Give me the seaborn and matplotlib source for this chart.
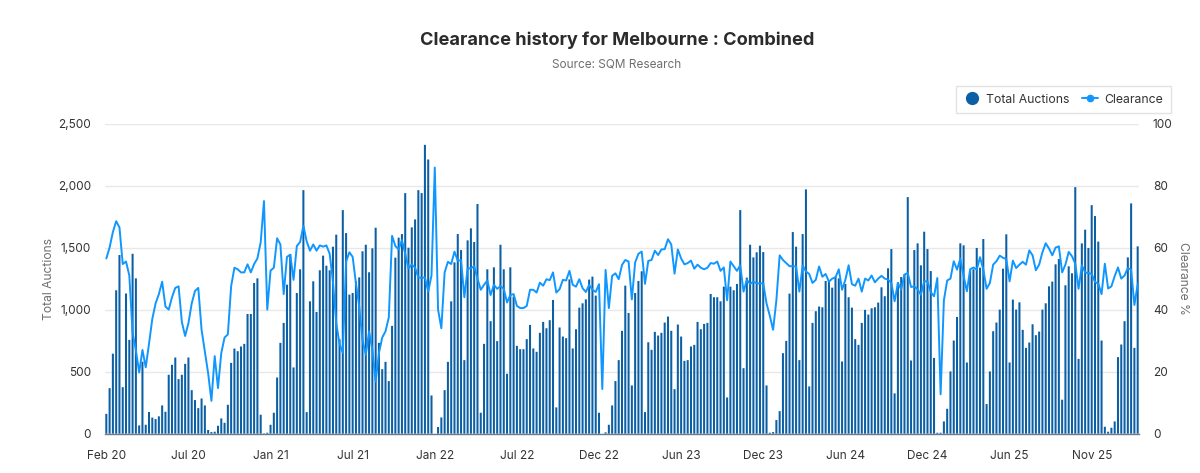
import matplotlib
matplotlib.use('Agg')
import matplotlib.pyplot as plt
from matplotlib.lines import Line2D
import numpy as np
import seaborn as sns

auctions = [160, 367, 645, 1156, 1440, 375, 1130, 756, 1450, 1252, 67, 580, 72, 175, 130, 118, 140, 228, 177, 475,
            555, 614, 440, 475, 563, 614, 351, 271, 206, 284, 228, 30, 13, 16, 64, 123, 88, 233, 571, 686,
            665, 703, 724, 965, 965, 1215, 1252, 153, 3, 8, 72, 169, 453, 732, 893, 1201, 1448, 534, 1134, 1325,
            1963, 174, 1067, 1228, 981, 1317, 1435, 1354, 1317, 1507, 1604, 762, 1802, 1617, 1121, 1134, 1228, 1260, 1470, 1523,
            1301, 1494, 1660, 732, 520, 579, 424, 869, 1419, 1580, 1609, 1939, 1499, 1663, 1727, 1963, 1939, 2328, 2210, 308,
            0, 54, 131, 351, 579, 1067, 1381, 1609, 1480, 593, 1558, 1655, 1545, 1851, 169, 724, 1325, 907, 1341, 746,
            1523, 1325, 483, 1341, 1105, 708, 681, 681, 762, 877, 687, 660, 813, 901, 850, 915, 1078, 212, 856, 783,
            770, 1244, 687, 842, 1016, 1051, 1083, 1242, 1266, 1113, 169, 0, 11, 72, 228, 424, 593, 829, 1193, 973,
            389, 1134, 1231, 1309, 174, 737, 676, 821, 791, 813, 896, 944, 829, 359, 880, 783, 587, 593, 703, 716,
            901, 842, 885, 893, 1126, 1100, 1100, 1067, 1185, 292, 1185, 1156, 1207, 1802, 528, 1258, 1523, 1421, 1462, 1515,
            1464, 389, 8, 13, 110, 182, 649, 748, 1129, 1625, 1507, 593, 1609, 1969, 381, 893, 987, 1025, 1019, 1231,
            1239, 1177, 1266, 1252, 582, 1207, 1100, 1016, 762, 716, 893, 998, 960, 1011, 1019, 1057, 1180, 1108, 1333, 1488,
            325, 1220, 1263, 1285, 1907, 590, 1480, 1534, 1357, 1628, 1488, 1311, 611, 8, 8, 99, 201, 502, 751, 941,
            1534, 1518, 574, 1322, 1325, 1497, 1338, 1569, 239, 502, 826, 896, 1000, 1330, 1607, 574, 1081, 1000, 1059, 837,
            692, 735, 882, 794, 823, 1000, 1051, 1188, 1226, 1365, 1408, 274, 1196, 1349, 1293, 1987, 603, 1534, 1644, 1497,
            1842, 1754, 1548, 751, 56, 16, 48, 99, 617, 719, 907, 1421, 1856, 692, 1510]

clearance = [56.5, 60, 65, 68.5, 66.5, 54.7, 55.5, 51, 32.4, 27, 19.7, 27, 21.4, 29, 37, 42, 45, 49, 41, 40,
             44, 47, 47.5, 36, 31.5, 35.6, 42, 46, 47, 33.5, 26.5, 19.5, 10.6, 25, 14.7, 26, 31, 32, 47.5, 53.5,
             53, 52, 52, 54.6, 52, 54.7, 56.5, 61.7, 75, 40, 52.6, 53.5, 63, 61, 45, 57, 57.7, 49.6, 60.5, 61.8,
             67, 62, 59, 61, 59, 60.7, 60.3, 60.7, 58, 49, 35.6, 29, 26, 55.5, 58.5, 57, 48.5, 41, 30.2, 25.4,
             33, 27, 16.8, 26, 31, 33, 37.5, 63.8, 60.5, 59.4, 62.4, 58, 53.3, 54.6, 53.5, 50.4, 50.2, 50.4, 45.8, 51,
             85.8, 40, 34, 52, 55.4, 54.7, 58.7, 55.7, 56, 44, 53.3, 53.3, 54, 50, 46.4, 48, 49.4, 44.7, 48, 46.7,
             47.6, 46.7, 42.3, 44.7, 45, 41.2, 40.5, 40.5, 41.2, 46.4, 46.4, 45.5, 48.7, 47.7, 49.8, 49.5, 52, 45.5, 46.6, 49.6,
             49.4, 52.5, 48, 47.4, 49.8, 46.9, 45.7, 48, 46.4, 45.7, 48.2, 14.4, 52.8, 40.5, 50.9, 51.7, 49.8, 54.4, 56, 55.5,
             43.3, 55.2, 58, 58.7, 48.3, 55.7, 56, 59, 57.6, 59.4, 59.5, 62.7, 61, 51.6, 59.4, 56.5, 54.6, 55, 55.8, 53.2,
             54.5, 53.5, 53, 53.5, 55, 54.8, 55.5, 52.5, 53.6, 43, 55.5, 54, 52.5, 54.3, 45.8, 49.6, 48.3, 49, 48.5, 48.4,
             48.5, 42, 38, 33.5, 43, 57.5, 56, 55, 54, 54, 53.9, 45.8, 54.2, 52.3, 51.5, 48.6, 49.6, 53.9, 50.6, 51.5,
             49, 50, 50.4, 53, 46.4, 49.6, 54.3, 48.2, 47.7, 50, 45.8, 50, 49.4, 51, 48.8, 50, 50.9, 50, 49.7, 48.6,
             42.7, 48.6, 46.5, 51.3, 51.8, 47.3, 47.5, 46.5, 44.8, 49.1, 49.1, 45.6, 44.3, 50.2, 12.7, 43, 49.4, 50, 55.6, 52.9,
             56.4, 50.8, 45.9, 53, 53.6, 52.9, 56.9, 52.9, 46.7, 48.6, 54.5, 55.6, 57.4, 56.7, 56.3, 49.1, 55.8, 53.4, 54.5, 55.4,
             54.5, 59.1, 57.5, 52.7, 54.5, 58.5, 61.4, 59.7, 57.5, 60, 60.4, 52, 54.5, 58.6, 57.2, 54.8, 46.7, 54.3, 52, 51.8,
             51.5, 48.9, 48.4, 45, 54.8, 46.8, 47.5, 50.8, 53.6, 50, 51, 53.4, 52.9, 41.5, 48.2]

tick_labels = ['Feb 20', 'Jul 20', 'Jan 21', 'Jul 21', 'Jan 22', 'Jul 22', 'Dec 22',
               'Jun 23', 'Dec 23', 'Jun 24', 'Dec 24', 'Jun 25', 'Nov 25']
left_ticks = [0, 500, 1000, 1500, 2000, 2500]
right_ticks = [0, 20, 40, 60, 80, 100]

BAR = '#0b5fa5'
LINE = '#0f97ff'
TEXT = '#333333'
GREY = '#6f6f6f'

sns.set_theme(style='white')
plt.rcParams['font.family'] = ['Inter', 'DejaVu Sans']

weeks = np.arange(len(auctions))

fig = plt.figure(figsize=(12, 4.73), dpi=100)
ax = fig.add_axes([105 / 1200, 1 - 433.7 / 473, (1139 - 105) / 1200, (433.7 - 123.5) / 473])

sns.barplot(x=weeks, y=auctions, color=BAR, saturation=1, width=0.62, linewidth=0, ax=ax, zorder=2)
# no pixel snapping, otherwise the thin bars come out uneven
for bar in ax.patches:
    bar.set_snap(False)
ax.set_xlim(-0.4, len(auctions) - 0.6)
ax.set_ylim(0, 2500)
ax.set_yticks(left_ticks)
ax.set_yticklabels([f'{v:,}' for v in left_ticks])
ax.set_xticks(weeks[::25])
ax.set_xticklabels(tick_labels)
ax.grid(axis='y', color='#e8e8e8', linewidth=1)
ax.set_axisbelow(True)
ax.set_xlabel('')
ax.set_ylabel('Total Auctions', fontsize=8.7, color=GREY)
ax.yaxis.set_label_coords(-50 / 1034, 0.5)
ax.tick_params(axis='y', length=0, pad=10, labelsize=8.5, labelcolor=TEXT)
ax.tick_params(axis='x', length=0, pad=12, labelsize=8.5, labelcolor=TEXT)
for s in ['top', 'left', 'right']:
    ax.spines[s].set_visible(False)
ax.spines['bottom'].set_color('#6e7a86')
ax.spines['bottom'].set_linewidth(1)

ax2 = ax.twinx()
sns.lineplot(x=weeks, y=clearance, color=LINE, linewidth=1.4, ax=ax2, zorder=3)
ax2.set_ylim(0, 100)
ax2.set_yticks(right_ticks)
ax2.tick_params(axis='y', length=0, pad=10, labelsize=8.5, labelcolor=TEXT)
ax2.set_ylabel('Clearance %', fontsize=8.7, color=GREY, rotation=270)
ax2.yaxis.set_label_coords(1 + 50 / 1034, 0.5)
ax2.grid(False)
for s in ax2.spines.values():
    s.set_visible(False)

handles = [Line2D([], [], linestyle='none', marker='o', markersize=8.5, color=BAR),
           Line2D([], [], color=LINE, linewidth=1.4, marker='o', markersize=4.5)]
fig.legend(handles, ['Total Auctions', 'Clearance'], ncol=2, loc='center',
           bbox_to_anchor=(1063.5 / 1200, 1 - 99.5 / 473), fontsize=8.8, frameon=True, fancybox=False,
           edgecolor='#dddddd', labelcolor=TEXT, handlelength=1.3, handletextpad=0.5, columnspacing=1.0,
           borderpad=0.65, borderaxespad=0)

fig.text(617 / 1200, 1 - 40 / 473, 'Clearance history for Melbourne : Combined', ha='center', va='center',
         fontsize=13.1, fontweight='bold', color='#2b2b2b')
fig.text(617 / 1200, 1 - 65 / 473, 'Source: SQM Research', ha='center', va='center', fontsize=8.5, color=GREY)

fig.savefig('out.png', dpi=100)
